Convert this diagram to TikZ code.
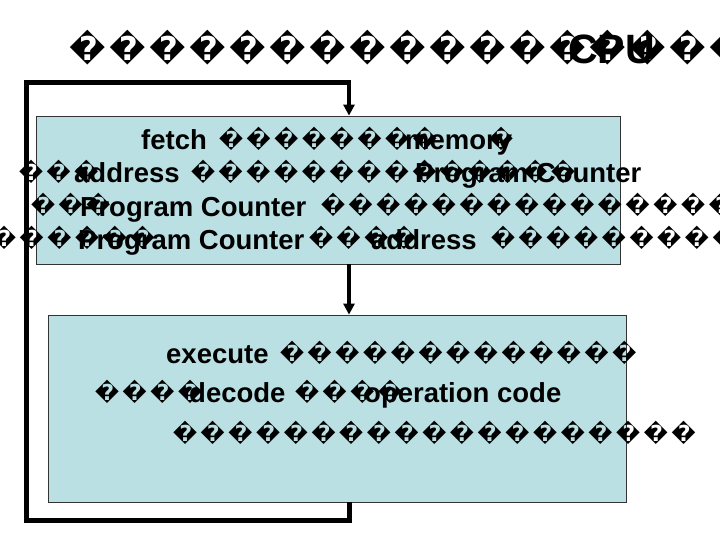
\documentclass[tikz,border=0pt]{standalone}
\usepackage{fontspec}
\setmainfont{Liberation Sans}
\newfontfamily\repfont{DejaVu Sans}[Scale=0.8,BoldFont=DejaVu Sans Bold]
\usetikzlibrary{arrows.meta}
\definecolor{boxfill}{RGB}{187,224,228}
\newcommand\seg[2]{\makebox[#1][l]{#2}}
\def\reppitch{27.7pt}
\def\repraise{2pt}
\def\repiter#1{\ifx\relax#1\else\makebox[\reppitch][c]{\raisebox{\repraise}{#1}}\expandafter\repiter\fi}
\newcommand\rep[1]{{\repfont\repiter#1\relax}}
\begin{document}
\begin{tikzpicture}[x=1pt,y=-1pt,
  panel/.style={draw=black!80, line width=0.8pt, fill=boxfill, inner sep=0pt},
  txt/.style={anchor=base west, inner sep=0pt, font=\fontsize{27.5}{27.5}\selectfont\bfseries},
  ttl/.style={anchor=base west, inner sep=0pt, font=\fontsize{41}{41}\selectfont\bfseries},
  loopline/.style={line width=5pt, line join=miter},
  arrowline/.style={line width=3.5pt, -{Triangle[width=11pt,length=11pt]}}]
\useasboundingbox (0,0) rectangle (720,540);
% panels
\node[panel, minimum width=584pt, minimum height=148pt] (fetch) at (328,190) {};
\node[panel, minimum width=578pt, minimum height=187pt] (exec) at (337,408.5) {};
% title
\node[ttl] (title) at (68,64) {\def\reppitch{40pt}\def\repraise{3pt}\seg{500pt}{\rep{��������������}}\seg{60pt}{CPU}\rep{���}};
% fetch text
\node[txt] (f1) at (141,150) {\seg{76pt}{fetch }\seg{188pt}{\rep{��������}}\seg{82pt}{memory}\rep{�}};
\node[txt] (f2) at (17,183) {\seg{57pt}{\rep{���}}\seg{115pt}{address }\seg{226pt}{\rep{��������������}}Program Counter};
\node[txt] (f3) at (29,216) {\seg{51pt}{\rep{���}}\seg{239pt}{Program Counter }\rep{���������������}};
\node[txt] (f4) at (-10,249) {\seg{88pt}{\rep{������}}\seg{229pt}{Program Counter }\seg{64pt}{\rep{����}}\seg{118pt}{address }\rep{���������}};
% execute text
\node[txt] (e1) at (166,363) {\seg{112pt}{execute }\rep{�������������}};
\node[txt] (e2) at (93,402) {\seg{96pt}{\rep{����}}\seg{104pt}{decode }\seg{71pt}{\rep{����}}operation code};
\node[txt] (e3) at (171,443) {\rep{�������������������}};
% connectors
\coordinate (xl) at (349,0);
\coordinate (bl) at (26,520);
\coordinate (tl) at (26,83);
\coordinate (tr) at (351,83);
\draw[loopline] (exec.south -| xl) |- (bl) -- (tl) -- (tr);
\draw[arrowline] (fetch.north -| xl) ++(0,-34) -- (fetch.north -| xl);
\draw[arrowline] (fetch.south -| xl) -- (exec.north -| xl);
\end{tikzpicture}
\end{document}
